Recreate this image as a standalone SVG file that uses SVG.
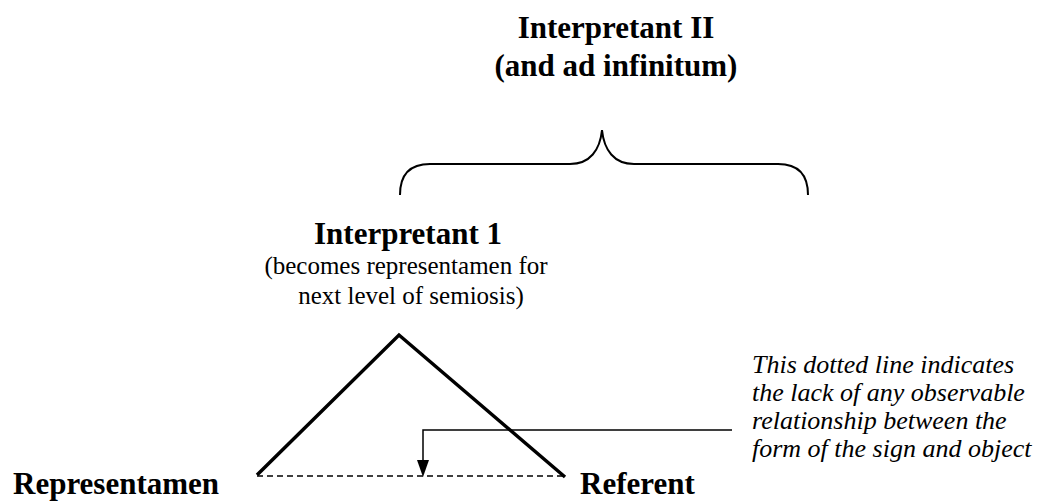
<svg xmlns="http://www.w3.org/2000/svg" width="1045" height="501" viewBox="0 0 1045 501">
<defs>
<style>
.b{font-family:"Liberation Serif",serif;font-weight:bold;font-size:31px;fill:#000}
.r{font-family:"Liberation Serif",serif;font-size:25px;fill:#000}
.i{font-family:"Liberation Serif",serif;font-style:italic;font-size:26px;fill:#000}
.ln{fill:none;stroke:#000}
</style>
</defs>
<rect width="1045" height="501" fill="#fff"/>
<g id="interpretant2">
<text class="b" x="616" y="38" text-anchor="middle">Interpretant II</text>
<text class="b" x="616" y="76" text-anchor="middle">(and ad infinitum)</text>
</g>
<g id="brace">
<path class="ln" stroke-width="2" d="M400,195 C400,175 410,164 430,164 L570,164 C590,164 600,150 602,130 C604,150 614,164 634,164 L778,164 C798,164 808,175 808,195"/>
</g>
<g id="interpretant1">
<text class="b" x="408" y="244" text-anchor="middle">Interpretant 1</text>
<text class="r" x="406" y="274" text-anchor="middle">(becomes representamen for</text>
<text class="r" x="411" y="304" text-anchor="middle">next level of semiosis)</text>
</g>
<g id="representamen">
<text class="b" x="13" y="494">Representamen</text>
</g>
<g id="referent">
<text class="b" x="580" y="494">Referent</text>
</g>
<g id="note">
<text class="i" x="752" y="373">This dotted line indicates</text>
<text class="i" x="752" y="401">the lack of any observable</text>
<text class="i" x="752" y="429">relationship between the</text>
<text class="i" x="752" y="457">form of the sign and object</text>
</g>
<g id="connectors">
<path class="ln" stroke-width="3.5" stroke-linejoin="miter" d="M257,475 L399,335 L565,477"/>
<line class="ln" stroke-width="1.5" stroke-dasharray="6,4" x1="257" y1="476" x2="563" y2="476"/>
<path class="ln" stroke-width="1.5" d="M732,430 L423,430 L423,462"/>
<path d="M417,460 L429,460 L423,477 z" fill="#000"/>
</g>
</svg>
